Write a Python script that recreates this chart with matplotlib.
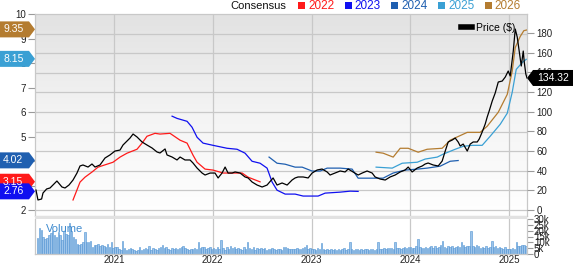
import numpy as np
import matplotlib
matplotlib.use('Agg')
import matplotlib.pyplot as plt
from matplotlib.patches import Polygon, Rectangle
from matplotlib.lines import Line2D
from matplotlib.colors import LinearSegmentedColormap

plt.rcParams['font.family'] = ['Liberation Sans', 'DejaVu Sans']

# ---- data (decimal years) ----
PRICE_T = [2020.210, 2020.230, 2020.267, 2020.281, 2020.318, 2020.352, 2020.382, 2020.422, 2020.473, 2020.504,
           2020.544, 2020.585, 2020.625, 2020.656, 2020.686, 2020.737, 2020.777, 2020.808, 2020.858, 2020.909,
           2020.959, 2021.010, 2021.061, 2021.091, 2021.132, 2021.162, 2021.193, 2021.233, 2021.284, 2021.334,
           2021.385, 2021.436, 2021.466, 2021.517, 2021.537, 2021.588, 2021.638, 2021.669, 2021.719, 2021.770,
           2021.800, 2021.841, 2021.892, 2021.922, 2021.973, 2022.023, 2022.054, 2022.094, 2022.125, 2022.155,
           2022.196, 2022.226, 2022.277, 2022.327, 2022.358, 2022.398, 2022.449, 2022.500, 2022.550, 2022.611,
           2022.651, 2022.702, 2022.753, 2022.803, 2022.834, 2022.864, 2022.915, 2022.966, 2023.006, 2023.057,
           2023.107, 2023.158, 2023.188, 2023.239, 2023.290, 2023.340, 2023.371, 2023.421, 2023.472, 2023.513,
           2023.563, 2023.614, 2023.644, 2023.695, 2023.746, 2023.796, 2023.847, 2023.898, 2023.948, 2023.979,
           2024.019, 2024.070, 2024.121, 2024.151, 2024.181, 2024.232, 2024.283, 2024.323, 2024.354, 2024.384,
           2024.425, 2024.455, 2024.485, 2024.506, 2024.536, 2024.577, 2024.607, 2024.637, 2024.678, 2024.698,
           2024.728, 2024.759, 2024.779, 2024.799, 2024.830, 2024.860, 2024.891, 2024.931, 2024.962, 2024.992,
           2025.012, 2025.043, 2025.063, 2025.083, 2025.103, 2025.124, 2025.144, 2025.154, 2025.170, 2025.182]
PRICE = [20.3, 10.2, 11.2, 17.3, 21.4, 22.4, 25.4, 29.5, 23.4, 22.4,
         25.4, 30.5, 37.6, 44.8, 45.8, 43.7, 46.8, 43.7, 45.8, 52.9,
         56.0, 60.0, 61.0, 66.1, 70.2, 73.2, 77.3, 74.3, 69.2, 66.1,
         63.1, 59.0, 58.0, 62.1, 56.0, 53.9, 50.9, 53.9, 50.9, 50.9,
         47.8, 42.7, 37.6, 35.6, 37.6, 37.6, 32.6, 37.6, 43.7, 37.6,
         37.6, 38.7, 37.6, 33.6, 32.6, 28.5, 25.4, 23.4, 25.4, 32.6,
         25.4, 27.5, 25.4, 30.5, 32.6, 33.6, 33.6, 32.6, 37.6, 40.7,
         41.7, 38.7, 35.6, 37.6, 39.7, 38.7, 41.7, 38.7, 35.6, 37.6,
         39.7, 37.6, 33.6, 31.5, 30.5, 33.6, 35.6, 38.7, 40.7, 43.7,
         38.7, 42.7, 44.8, 46.8, 47.8, 45.8, 44.8, 49.8, 60.0, 69.2,
         71.2, 73.2, 69.2, 65.1, 67.1, 60.0, 67.1, 69.2, 69.2, 72.2,
         79.3, 87.5, 94.6, 100.7, 110.9, 119.0, 130.2, 131.2, 135.3, 141.4,
         136.3, 161.7, 184.1, 176.0, 161.7, 146.5, 161.7, 150.6, 138.4, 134.32]

E22_T = [2020.585, 2020.656, 2020.706, 2020.777, 2020.838, 2020.929, 2020.990, 2021.061, 2021.132, 2021.233,
         2021.284, 2021.334, 2021.415, 2021.466, 2021.567, 2021.669, 2021.740, 2021.800, 2021.841, 2021.922,
         2022.003, 2022.104, 2022.206, 2022.297, 2022.358, 2022.479]
E22 = [2.41, 3.14, 3.34, 3.55, 3.75, 3.87, 3.95, 4.16, 4.32, 4.48,
       4.73, 5.01, 5.13, 5.10, 5.13, 4.85, 4.73, 4.24, 3.95, 3.67,
       3.63, 3.51, 3.51, 3.51, 3.34, 3.15]

E23_T = [2021.588, 2021.638, 2021.740, 2021.790, 2021.841, 2021.902, 2022.003, 2022.145, 2022.246, 2022.327,
         2022.398, 2022.479, 2022.550, 2022.601, 2022.651, 2022.733, 2022.834, 2022.915, 2023.067, 2023.138,
         2023.290, 2023.391, 2023.472]
E23 = [5.83, 5.74, 5.62, 5.38, 4.97, 4.73, 4.64, 4.52, 4.48, 4.32,
       3.99, 3.91, 3.71, 3.14, 2.81, 2.65, 2.65, 2.57, 2.57, 2.69,
       2.73, 2.77, 2.76]

E24_T = [2022.570, 2022.651, 2022.733, 2022.834, 2022.905, 2023.006, 2023.087, 2023.158, 2023.290, 2023.411,
         2023.472, 2023.594, 2023.725, 2023.827, 2023.948, 2024.070, 2024.171, 2024.303, 2024.404, 2024.485]
E24 = [4.16, 3.91, 3.87, 3.75, 3.75, 3.59, 3.59, 3.71, 3.71, 3.67,
       3.30, 3.30, 3.30, 3.51, 3.63, 3.67, 3.71, 3.79, 3.99, 4.02]

E25_T = [2023.654, 2023.817, 2023.918, 2024.070, 2024.151, 2024.273, 2024.333, 2024.455, 2024.536, 2024.627,
         2024.728, 2024.809, 2024.911, 2024.982, 2025.032, 2025.073, 2025.134, 2025.174]
E25 = [3.75, 3.71, 3.91, 3.95, 4.08, 4.16, 4.28, 4.48, 4.60, 4.64,
       4.64, 5.01, 5.50, 5.95, 6.80, 7.74, 8.02, 8.15]

E26_T = [2023.654, 2023.725, 2023.827, 2023.898, 2023.979, 2024.080, 2024.171, 2024.323, 2024.404, 2024.577,
         2024.708, 2024.779, 2024.891, 2024.982, 2025.032, 2025.063, 2025.113, 2025.150, 2025.182]
E26 = [4.36, 4.32, 4.16, 4.52, 4.52, 4.36, 4.48, 4.52, 4.85, 5.17,
       5.17, 5.42, 5.99, 6.72, 7.66, 8.63, 9.08, 9.32, 9.35]

# weekly volume, thousands
VOL_2020 = [14, 22, 21, 15, 13, 14, 16, 18, 20, 16, 15, 19, 16, 12, 20, 17, 16, 27, 20, 15, 13,
            9, 8, 9, 10.5, 19, 10.5, 10.5, 11, 6.4, 8, 8, 9, 7, 8, 7, 6.4, 8.5, 5.8, 10, 5]
VOL_2021 = [5.8, 5.6, 4.2, 3.6, 11.1, 5, 3.6, 4.2, 5, 4.4, 3.6, 2.8, 3.6, 5.6, 3.6, 4.4, 5, 4.2, 6.9, 3.6,
            5, 4.2, 3.6, 5, 6.4, 7.8, 5, 5.8, 4.2, 3.6, 5, 4.2, 5, 4.2, 5, 6.4, 7.2, 5, 4.2, 3.6,
            4.2, 4.2, 5, 4.2, 10.6, 5, 5.8, 6.4, 4.2, 5, 6.4, 4.4]
VOL_2022 = [5, 4.2, 5.6, 4.2, 12, 5, 3.6, 5.8, 4.2, 6.9, 5, 5.8, 4.2, 5, 4.2, 3.6, 5.8, 4.4, 10.6, 5,
            4.2, 5.6, 3.6, 5, 4.2, 5, 4.4, 5, 3.6, 4.2, 4.4, 5, 4.2, 3.6, 4.4, 4.2, 3.6, 6.4, 5.8, 5,
            4.2, 4, 4.5, 4, 5.5, 4, 4.5, 5, 6, 7.5, 4, 5]
VOL_2023 = [4, 4.5, 3.8, 5, 4.2, 9.7, 4, 3.6, 4.4, 3.8, 4, 3.4, 4.2, 3.6, 4, 3.8, 4.4, 5, 3.6, 4,
            10, 4.2, 3.6, 4, 4.5, 3.8, 4.2, 3.6, 4.4, 4, 3.8, 4.2, 4, 3.6, 4.4, 10, 4.2, 4.6, 5, 4.4,
            5.2, 4.8, 5.5, 4.6, 10.2, 4.8, 5.4, 4.4, 5, 6.2, 4.8, 5.6]
VOL_2024 = [6, 5, 5.5, 7, 12.5, 6, 5, 5.5, 6.4, 5, 6, 7, 5.5, 6.5, 5, 6, 7.5, 11, 6, 5.5,
            7, 6, 6.5, 5, 6, 7, 6, 10, 8, 6, 7, 6.5, 19.5, 7, 6, 8, 6.5, 5.5, 6, 5,
            6.5, 5.5, 6, 11, 6, 7, 5.5, 6, 5, 4.5, 6, 4]
VOL_2025 = [4, 4.2, 5, 4.5, 10, 6.5, 7, 8, 7.5, 6.5]
VOLUME = VOL_2020 + VOL_2021 + VOL_2022 + VOL_2023 + VOL_2024 + VOL_2025
VOL_END = 2025.17

YEARS = ['2022', '2023', '2024', '2025', '2026']
COLORS = ['#ff1a1a', '#1010f0', '#1f5fb0', '#3aa0d4', '#b47c30']
EPS_SERIES = [(E22_T, E22), (E23_T, E23), (E24_T, E24), (E25_T, E25), (E26_T, E26)]

PRICE_TICKS = list(range(0, 181, 20))
EPS_TICKS = list(range(2, 11))
VOL_TICKS = [0, 5, 10, 15, 20, 25, 30]
YEAR_TICKS = [2021, 2022, 2023, 2024, 2025]

# ---- layout ----
W, H = 573, 264
def fx(px):
    return px / W
def fy(py):
    return 1 - py / H

GRID = '#c8c8c8'
XLIM = (2020.20, 2025.182)
PRICE_LIM = (-6.1, 199.4)
def to_eps(p):
    return 2 + p / 25.0
EPS_LIM = (to_eps(PRICE_LIM[0]), to_eps(PRICE_LIM[1]))

fig = plt.figure(figsize=(W / 100, H / 100), dpi=100)
L, R = 35, 527
ax = fig.add_axes([fx(L), fy(216), fx(R) - fx(L), fy(14) - fy(216)])
axv = fig.add_axes([fx(L), fy(254), fx(R) - fx(L), fy(219) - fy(254)])

# gradient background
cm = LinearSegmentedColormap.from_list('bg', ['#e2e2e2', '#f4f4f4', '#ffffff'])
ax.imshow(np.linspace(0, 1, 256).reshape(-1, 1), cmap=cm, extent=[0, 1, 0, 1],
          transform=ax.transAxes, aspect='auto', zorder=0)
ax.set_xlim(XLIM)
ax.set_ylim(EPS_LIM)

for p in PRICE_TICKS:
    ax.axhline(to_eps(p), color=GRID, lw=0.9, zorder=1)
for yr in YEAR_TICKS:
    ax.axvline(yr, color=GRID, lw=0.9, zorder=1)
    axv.axvline(yr, color=GRID, lw=0.9, zorder=0)

for (t, v), c in zip(EPS_SERIES, COLORS):
    ax.plot(t, v, color=c, lw=0.9, zorder=3)

ax.set_yticks(EPS_TICKS)
ax.set_xticks([])
ax.tick_params(axis='y', colors='#9a9a9a', labelcolor='#222222', labelsize=7, length=5, width=0.8, pad=1.5)
for s in ax.spines.values():
    s.set_color(GRID)
    s.set_linewidth(0.9)

ax2 = ax.twinx()
ax2.set_ylim(PRICE_LIM)
ax2.set_xlim(XLIM)
ax2.plot(PRICE_T, PRICE, color='black', lw=0.9, zorder=4)
ax2.set_yticks(PRICE_TICKS)
ax2.tick_params(axis='y', colors='#9a9a9a', labelcolor='#222222', labelsize=7, length=5, width=0.8, pad=2)
for s in ax2.spines.values():
    s.set_visible(False)
ax2.legend(handles=[Line2D([], [], color='black', lw=4)], labels=['Price ($)'], loc='upper right',
           bbox_to_anchor=(1 - 6 / 492, 1.0 - 3 / 202), frameon=False, fontsize=7.5, handlelength=1.0,
           handletextpad=0.4, borderaxespad=0.25, borderpad=0.3)

# volume
n = len(VOLUME)
vol_t = VOL_END - (n - 1 - np.arange(n)) / 52.18
axv.bar(vol_t, VOLUME, width=0.8 / 52.18, color='#9dc4ea', edgecolor='#4f92d2', linewidth=0.4, zorder=2)
axv.set_xlim(XLIM)
axv.set_ylim(0, 30)
axv.yaxis.tick_right()
axv.set_yticks(VOL_TICKS)
axv.set_yticklabels([f'{v}k' if v else '0' for v in VOL_TICKS])
axv.set_xticks(YEAR_TICKS)
axv.set_xticklabels([str(y) for y in YEAR_TICKS])
axv.tick_params(axis='y', colors='#9a9a9a', labelcolor='#222222', labelsize=7, length=4, width=0.8, pad=1)
axv.tick_params(axis='x', length=0, labelsize=7, labelcolor='#222222', pad=0.5)
for s in axv.spines.values():
    s.set_color(GRID)
    s.set_linewidth(0.9)
axv.spines['top'].set_visible(False)
axv.text(0.022, 0.71, 'Volume', transform=axv.transAxes, color='#3f8bcf', fontsize=8,
         ha='left', va='center', zorder=3)

# grey separator band
fig.add_artist(Rectangle((fx(L), fy(219)), fx(R) - fx(L), fy(216) - fy(219), transform=fig.transFigure,
                         facecolor='#e2e2e2', edgecolor='none', zorder=2))

# header legend
fig.text(fx(286), fy(6), 'Consensus', ha='right', va='center', fontsize=8, color='#111111')
for i, (yr, c) in enumerate(zip(YEARS, COLORS)):
    x0 = 298 + i * 46.7
    fig.add_artist(Rectangle((fx(x0), fy(9)), 7 / W, 7 / H, transform=fig.transFigure,
                             facecolor=c, edgecolor='none'))
    fig.text(fx(x0 + 10), fy(6), yr, ha='left', va='center', fontsize=8.5, color=c)

# value tags on the left (consensus) and right (price)
ax_bottom, ax_h = fy(216), fy(14) - fy(216)
def eps_fig_y(v):
    return ax_bottom + (v - EPS_LIM[0]) / (EPS_LIM[1] - EPS_LIM[0]) * ax_h

hh = 8 / H
tag_order = [4, 3, 2, 0, 1]
for k in tag_order:
    val = EPS_SERIES[k][1][-1]
    c = COLORS[k]
    yc = eps_fig_y(val)
    pts = [(0, yc - hh), (fx(29), yc - hh), (fx(35), yc), (fx(29), yc + hh), (0, yc + hh)]
    fig.add_artist(Polygon(pts, closed=True, transform=fig.transFigure, facecolor=c, edgecolor='none', zorder=5))
    fig.text(fx(3), yc, f'{val:.2f}', ha='left', va='center', color='white', fontsize=7.5, zorder=6)

pc = ax_bottom + (PRICE[-1] - PRICE_LIM[0]) / (PRICE_LIM[1] - PRICE_LIM[0]) * ax_h
pts = [(fx(527), pc), (fx(533), pc - hh), (1, pc - hh), (1, pc + hh), (fx(533), pc + hh)]
fig.add_artist(Polygon(pts, closed=True, transform=fig.transFigure, facecolor='black', edgecolor='none', zorder=5))
fig.text(fx(537), pc, f'{PRICE[-1]:.2f}', ha='left', va='center', color='white', fontsize=7.5, zorder=6)

fig.savefig('out.png', dpi=100, facecolor='white')
